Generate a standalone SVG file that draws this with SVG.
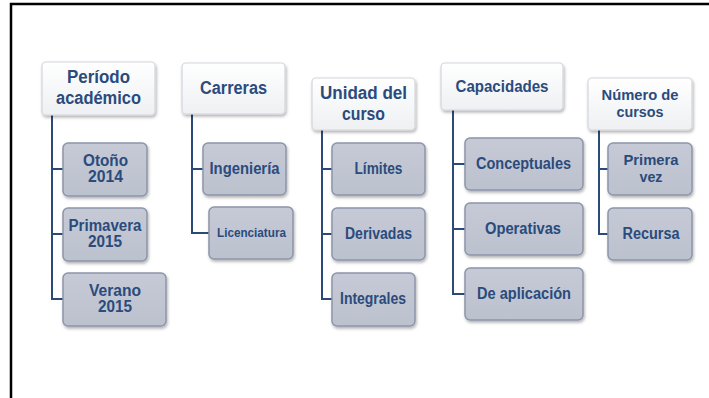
<svg xmlns="http://www.w3.org/2000/svg" width="709" height="398" viewBox="0 0 709 398">
<defs>
<linearGradient id="gh" x1="0" y1="0" x2="0" y2="1"><stop offset="0" stop-color="#ffffff"/><stop offset="1" stop-color="#eef0f3"/></linearGradient>
<linearGradient id="gc" x1="0" y1="0" x2="0" y2="1"><stop offset="0" stop-color="#c6cad6"/><stop offset="1" stop-color="#bcc1ce"/></linearGradient>
<filter id="sh" x="-10%" y="-10%" width="130%" height="140%"><feDropShadow dx="1" dy="2" stdDeviation="1.5" flood-color="#000" flood-opacity="0.3"/></filter>
</defs>
<style>
.h{fill:url(#gh);stroke:#d3d6dc;stroke-width:1.2;filter:url(#sh)}
.c{fill:url(#gc);stroke:#8c95a9;stroke-width:1.5;filter:url(#sh)}
text{font-family:"Liberation Sans",Arial,sans-serif;font-weight:bold;fill:#2a4b7c;text-anchor:middle}
.t1{font-size:17.5px}
.t2{font-size:16px}
.conn path{fill:none;stroke:#2b4a78;stroke-width:2}
</style>
<rect width="709" height="398" fill="#ffffff"/>
<path d="M11 398V4H709" fill="none" stroke="#000" stroke-width="2.5"/>
<g class="conn">
<path d="M52 115V299H63M52 169H63M52 234H63"/>
<path d="M192 114V233H209M192 169H203"/>
<path d="M322 130V299H332M322 169H332M322 234H332"/>
<path d="M453 110V294H465M453 164H465M453 229H465"/>
<path d="M599 130V234H608M599 169H608"/>
</g>
<g id="n-periodo"><rect class="h" x="42" y="62" width="113" height="53" rx="4"/><text class="t1" x="98.5" y="83" textLength="63" lengthAdjust="spacingAndGlyphs">Período</text><text class="t1" x="98.5" y="104" textLength="85" lengthAdjust="spacingAndGlyphs">académico</text></g>
<g id="n-otono"><rect class="c" x="63" y="143" width="84" height="53" rx="5"/><text class="t2" x="105.5" y="166" textLength="45" lengthAdjust="spacingAndGlyphs">Otoño</text><text class="t2" x="105.5" y="182" textLength="35" lengthAdjust="spacingAndGlyphs">2014</text></g>
<g id="n-primavera"><rect class="c" x="63" y="208" width="84" height="53" rx="5"/><text class="t2" x="105" y="231" textLength="73" lengthAdjust="spacingAndGlyphs">Primavera</text><text class="t2" x="105" y="247" textLength="34" lengthAdjust="spacingAndGlyphs">2015</text></g>
<g id="n-verano"><rect class="c" x="63" y="273" width="103" height="53" rx="5"/><text class="t2" x="115" y="296" textLength="52" lengthAdjust="spacingAndGlyphs">Verano</text><text class="t2" x="115" y="312" textLength="34" lengthAdjust="spacingAndGlyphs">2015</text></g>
<g id="n-carreras"><rect class="h" x="182" y="63" width="103" height="51" rx="4"/><text class="t1" x="233.5" y="94" textLength="67" lengthAdjust="spacingAndGlyphs">Carreras</text></g>
<g id="n-ingenieria"><rect class="c" x="203" y="143" width="83" height="52" rx="5"/><text class="t2" x="244.5" y="174" textLength="70" lengthAdjust="spacingAndGlyphs">Ingeniería</text></g>
<g id="n-licenciatura"><rect class="c" x="209" y="207" width="84" height="52" rx="5"/><text style="font-size:12.5px" x="251.5" y="237" textLength="69" lengthAdjust="spacingAndGlyphs">Licenciatura</text></g>
<g id="n-unidad"><rect class="h" x="312" y="78" width="103" height="52" rx="4"/><text class="t1" x="363.5" y="99" textLength="87" lengthAdjust="spacingAndGlyphs">Unidad del</text><text class="t1" x="363.5" y="120" textLength="43" lengthAdjust="spacingAndGlyphs">curso</text></g>
<g id="n-limites"><rect class="c" x="332" y="143" width="93" height="52" rx="5"/><text class="t2" x="378.5" y="174" textLength="48" lengthAdjust="spacingAndGlyphs">Límites</text></g>
<g id="n-derivadas"><rect class="c" x="332" y="208" width="93" height="52" rx="5"/><text class="t2" x="378.5" y="239" textLength="67" lengthAdjust="spacingAndGlyphs">Derivadas</text></g>
<g id="n-integrales"><rect class="c" x="332" y="273" width="83" height="53" rx="5"/><text class="t2" x="373" y="304" textLength="66" lengthAdjust="spacingAndGlyphs">Integrales</text></g>
<g id="n-capacidades"><rect class="h" x="441" y="63" width="122" height="47" rx="4"/><text class="t2" x="502" y="92" textLength="93" lengthAdjust="spacingAndGlyphs">Capacidades</text></g>
<g id="n-conceptuales"><rect class="c" x="465" y="138" width="118" height="52" rx="5"/><text class="t2" x="523.5" y="169" textLength="95" lengthAdjust="spacingAndGlyphs">Conceptuales</text></g>
<g id="n-operativas"><rect class="c" x="465" y="203" width="118" height="52" rx="5"/><text class="t2" x="523" y="234" textLength="76" lengthAdjust="spacingAndGlyphs">Operativas</text></g>
<g id="n-deaplicacion"><rect class="c" x="465" y="268" width="118" height="52" rx="5"/><text class="t2" x="524" y="299" textLength="94" lengthAdjust="spacingAndGlyphs">De aplicación</text></g>
<g id="n-numero"><rect class="h" x="588" y="78" width="104" height="52" rx="4"/><text style="font-size:14.5px" x="640" y="100" textLength="77" lengthAdjust="spacingAndGlyphs">Número de</text><text style="font-size:14.5px" x="640" y="117" textLength="47" lengthAdjust="spacingAndGlyphs">cursos</text></g>
<g id="n-primera"><rect class="c" x="608" y="143" width="84" height="52" rx="5"/><text style="font-size:15.5px" x="651" y="165" textLength="55" lengthAdjust="spacingAndGlyphs">Primera</text><text style="font-size:15.5px" x="651" y="182" textLength="23" lengthAdjust="spacingAndGlyphs">vez</text></g>
<g id="n-recursa"><rect class="c" x="608" y="208" width="84" height="52" rx="5"/><text class="t2" x="651" y="239" textLength="57" lengthAdjust="spacingAndGlyphs">Recursa</text></g>
</svg>
